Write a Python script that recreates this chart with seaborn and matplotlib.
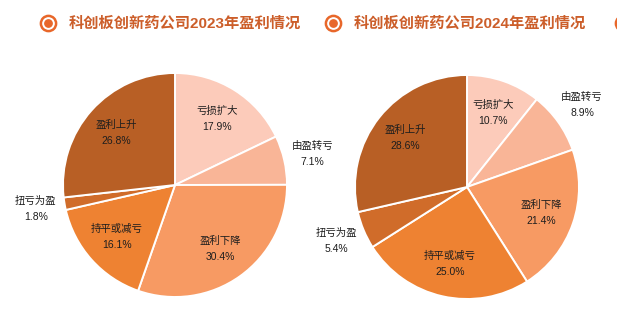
import numpy as np
import matplotlib
matplotlib.use("Agg")
import matplotlib.pyplot as plt
import seaborn as sns

sns.set_theme(style="white")
plt.rcParams["font.family"] = ["Liberation Sans", "Noto Sans CJK SC", "DejaVu Sans"]

# Profit-change categories, clockwise from 12 o'clock
categories = ["亏损扩大", "由盈转亏", "盈利下降", "持平或减亏", "扭亏为盈", "盈利上升"]
share_2023 = [17.9, 7.1, 30.4, 16.1, 1.8, 26.8]
share_2024 = [10.7, 8.9, 21.4, 25.0, 5.4, 28.6]
titles = ["科创板创新药公司2023年盈利情况", "科创板创新药公司2024年盈利情况"]
# slices labelled outside the pie
outside = {"由盈转亏", "扭亏为盈"}

palette = sns.color_palette(["#FCCBBA", "#F9B597", "#F79A63",
                             "#EE8232", "#D06C2A", "#B85F25"])

W, H = 617, 328
fig = plt.figure(figsize=(W / 100, H / 100), dpi=100)
fig.patch.set_facecolor("white")

centers = [(175, 185), (467, 187)]
R = 112


def draw_pie(ax, values):
    wedges, _ = ax.pie(values, colors=palette, startangle=90, counterclock=False,
                       radius=1.0,
                       wedgeprops=dict(edgecolor="white", linewidth=1.4))
    for w, cat, v in zip(wedges, categories, values):
        ang = np.deg2rad((w.theta1 + w.theta2) / 2)
        r = 1.26 if cat in outside else 0.70
        x, y = r * np.cos(ang), r * np.sin(ang)
        ax.text(x, y, f"{cat}\n{v:.1f}%", ha="center", va="center",
                fontsize=7.5, fontweight="medium", color="#1e1e1e",
                linespacing=1.75, clip_on=False)
    ax.set_xlim(-1, 1)
    ax.set_ylim(-1, 1)
    ax.set_aspect("equal")
    ax.axis("off")


for (cx, cy), vals in zip(centers, [share_2023, share_2024]):
    ax = fig.add_axes([(cx - R) / W, (H - cy - R) / H, 2 * R / W, 2 * R / H])
    draw_pie(ax, vals)

# Title row with ring bullets
overlay = fig.add_axes([0, 0, 1, 1])
overlay.set_xlim(0, W)
overlay.set_ylim(H, 0)
overlay.axis("off")
accent = "#E8672A"
for bx in [48, 333, 623]:
    overlay.scatter([bx], [23], s=120, facecolor="white", edgecolor=accent,
                    linewidth=1.8, zorder=3, clip_on=True)
    overlay.scatter([bx], [23], s=28, color=accent, zorder=4, clip_on=True)
for tx, t in zip([69, 354], titles):
    overlay.text(tx, 23, t, ha="left", va="center", fontsize=11,
                 fontweight="bold", color="#CC5E2A")

fig.savefig("out.png", dpi=100, facecolor="white")
